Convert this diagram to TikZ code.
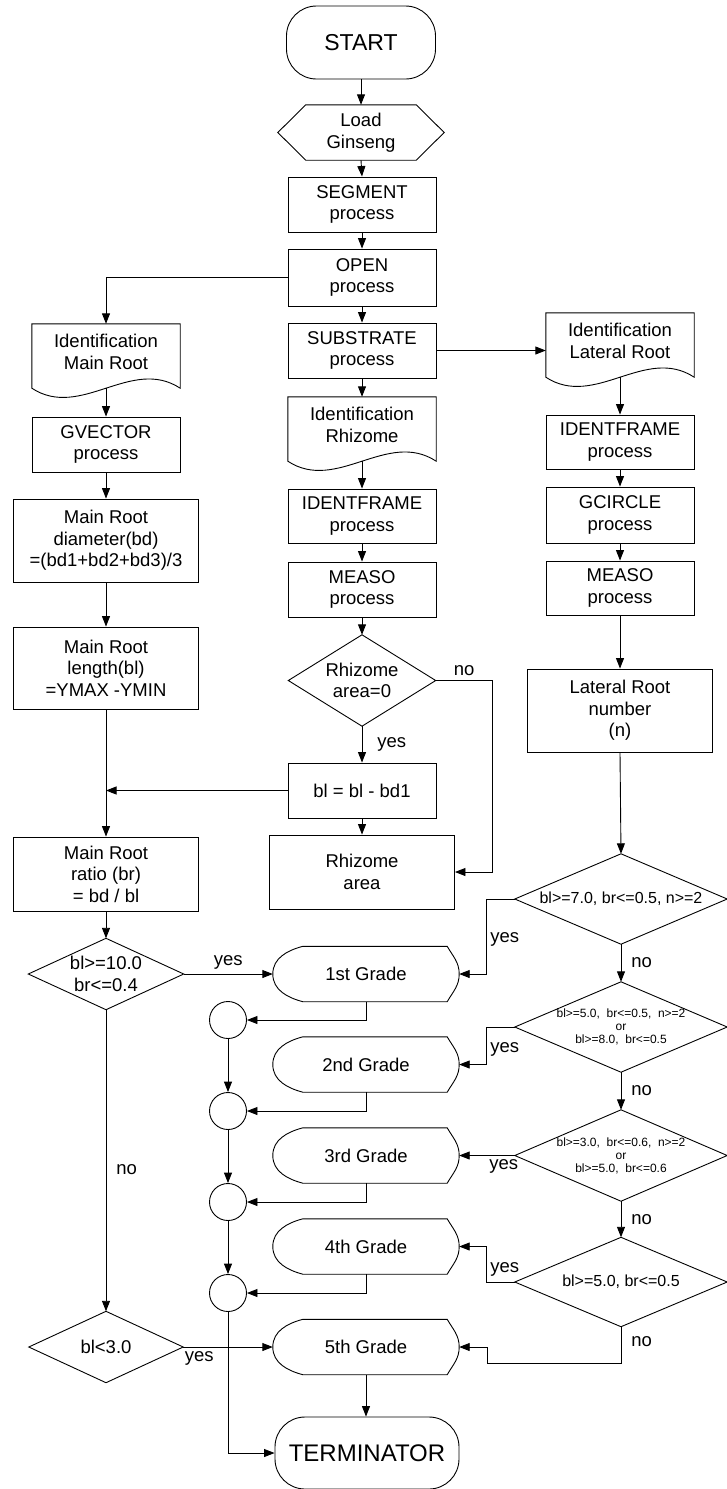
\documentclass[tikz,border=0pt]{standalone}
\usepackage{fontspec}
\setmainfont{Liberation Sans}
\usetikzlibrary{arrows.meta}
\newcommand\hexashape[1]{\draw[shp] ([xshift=28pt]#1.north west) -- ([xshift=-28pt]#1.north east) -- (#1.east) -- ([xshift=-28pt]#1.south east) -- ([xshift=28pt]#1.south west) -- (#1.west) -- cycle;}
\newcommand\docshape[1]{\draw[shp] (#1.north west) -- (#1.north east) -- ([yshift=-8pt]#1.south east) .. controls ([xshift=-49pt,yshift=24pt]#1.south east) and ([xshift=49pt,yshift=-40pt]#1.south west) .. ([yshift=-8pt]#1.south west) -- cycle;}
\newcommand\diamshape[1]{\draw[shp] (#1.north) -- (#1.east) -- (#1.south) -- (#1.west) -- cycle;}
\newcommand\gradeshape[1]{\draw[shp] ([xshift=30pt]#1.north west) -- ([xshift=-12pt]#1.north east) to[out=-60,in=90] (#1.east) to[out=-90,in=60] ([xshift=-12pt]#1.south east) -- ([xshift=30pt]#1.south west) to[out=165,in=-90] (#1.west) to[out=90,in=195] ([xshift=30pt]#1.north west);}
\begin{document}
\begin{tikzpicture}[x=1pt,y=-1pt,
  shp/.style={line width=0.9pt},
  arr/.style={shp,-{Triangle[length=10.5pt,width=8pt]}},
  every node/.style={font=\fontsize{18.5}{21.5}\selectfont, inner sep=0pt, align=center},
  frame/.style n args={2}{minimum width=#1, minimum height=#2},
  pbox/.style={draw, shp, frame={148pt}{55pt}},
  wbox/.style n args={1}{draw, shp, frame={185pt}{#1}},
  lbl/.style={inner sep=1pt},
  term/.style={draw, shp, rounded corners=30pt},
  conn/.style={draw, shp, circle, minimum size=37pt},
  smalltxt/.style={font=\fontsize{12}{13}\selectfont},
  midtxt/.style={font=\fontsize{16}{19}\selectfont}
]
\useasboundingbox (0,0) rectangle (727,1489);
\fill[white] (0,0) rectangle (727,1489);

% centre column
\node[term, frame={149pt}{73pt}, font=\fontsize{23}{26}\selectfont] (start) at (361,42.5) {START};
\node[frame={166pt}{55pt}] (load) at (361,132.5) {Load\\Ginseng};
\hexashape{load}
\node[pbox] (seg) at (362,204.5) {SEGMENT\\process};
\node[pbox, minimum height=57pt] (open) at (362,277.5) {OPEN\\process};
\node[pbox] (sub) at (362,350.5) {SUBSTRATE\\process};
\node[frame={148pt}{56pt}] (irh) at (362,425) {Identification\\Rhizome};
\docshape{irh}
\node[pbox, minimum height=54pt] (ifm1) at (362,516) {IDENTFRAME\\process};
\node[pbox] (mea1) at (362,589.5) {MEASO\\process};
\node[frame={147pt}{91pt}] (rdia) at (362,680.5) {Rhizome\\area=0};
\diamshape{rdia}
\node[pbox] (bl1) at (362,790.5) {bl = bl - bd1};
\node[wbox={74pt}] (area) at (362,872) {Rhizome\\area};

% left column
\node[frame={148pt}{56pt}] (imr) at (106,352) {Identification\\Main Root};
\docshape{imr}
\node[pbox] (gvec) at (106,444.5) {GVECTOR\\process};
\node[wbox={83pt}] (mrd) at (106,540.5) {Main Root\\diameter(bd)\\=(bd1+bd2+bd3)/3};
\node[wbox={82pt}] (mrl) at (106,668) {Main Root\\length(bl)\\=YMAX -YMIN};
\node[wbox={74pt}] (mrr) at (106,874) {Main Root\\ratio (br)\\= bd / bl};
\node[frame={155pt}{71pt}] (dia10) at (106,974) {bl>=10.0\\br<=0.4};
\diamshape{dia10}
\node[frame={154pt}{71pt}] (dl3) at (106,1347) {bl<3.0};
\diamshape{dl3}

% right column
\node[frame={148pt}{56pt}] (ilr) at (620,341) {Identification\\Lateral Root};
\docshape{ilr}
\node[pbox, minimum height=54pt] (ifm2) at (620,442) {IDENTFRAME\\process};
\node[pbox, minimum height=56pt] (gcir) at (620,515) {GCIRCLE\\process};
\node[pbox, minimum height=54pt] (mea2) at (620,588) {MEASO\\process};
\node[wbox={83pt}] (lrn) at (620,710.5) {Lateral Root\\number\\(n)};
\node[frame={212pt}{90pt}, midtxt] (diaA) at (621,899) {bl>=7.0, br<=0.5, n>=2};
\diamshape{diaA}
\node[frame={212pt}{90pt}, smalltxt] (diaB) at (621,1027) {bl>=5.0,\ \ br<=0.5,\ \ n>=2\\or\\bl>=8.0,\ \ br<=0.5};
\diamshape{diaB}
\node[frame={212pt}{91pt}, smalltxt] (diaC) at (621,1155.5) {bl>=3.0,\ \ br<=0.6,\ \ n>=2\\or\\bl>=5.0,\ \ br<=0.6};
\diamshape{diaC}
\node[frame={212pt}{89pt}, midtxt] (diaD) at (621,1282) {bl>=5.0, br<=0.5};
\diamshape{diaD}

% grades
\node[frame={186pt}{55pt}] (g1) at (366,974) {1st Grade};
\gradeshape{g1}
\node[frame={186pt}{55pt}] (g2) at (366,1064.5) {2nd Grade};
\gradeshape{g2}
\node[frame={186pt}{55pt}] (g3) at (366,1155.5) {3rd Grade};
\gradeshape{g3}
\node[frame={186pt}{55pt}] (g4) at (366,1246.5) {4th Grade};
\gradeshape{g4}
\node[frame={186pt}{55pt}] (g5) at (366,1347) {5th Grade};
\gradeshape{g5}
\node[conn] (c1) at (228,1020) {};
\node[conn] (c2) at (228,1111) {};
\node[conn] (c3) at (228,1202) {};
\node[conn] (c4) at (228,1293) {};
\node[term, frame={184pt}{72pt}, font=\fontsize{24}{27}\selectfont] (term) at (367,1453) {TERMINATOR};

% connectors centre
\draw[arr] (start.south) -- (load.north);
\draw[arr] (load.south) -- (seg.north);
\draw[arr] (seg.south) -- (open.north);
\draw[arr] (open.south) -- (sub.north);
\draw[arr] (open.west) -| (imr.north);
\draw[arr] (sub.east) -- (sub.east -| ilr.west);
\draw[arr] (sub.south) -- (irh.north);
\draw[arr] ([yshift=-8pt]irh.south) -- (ifm1.north);
\draw[arr] (ifm1.south) -- (mea1.north);
\draw[arr] (mea1.south) -- (rdia.north);
\draw[arr] (rdia.south) -- node[lbl, right=14pt] (ly1) {yes} (bl1.north);
\draw[arr] (rdia.east) -- node[lbl, above=3pt] (ln1) {no} ++(57,0) |- (area.east);
\draw[arr] (bl1.south) -- (area.north);
\draw[arr] (bl1.west) -- (bl1.west -| mrl.south);

% connectors left
\draw[arr] ([yshift=-8pt]imr.south) -- (gvec.north);
\draw[arr] (gvec.south) -- (mrd.north);
\draw[arr] (mrd.south) -- (mrl.north);
\draw[arr] (mrl.south) -- (mrr.north);
\draw[arr] (mrr.south) -- (dia10.north);
\draw[arr] (dia10.east) -- node[lbl, above=3pt] (ly2) {yes} (g1.west);
\draw[arr] (dia10.south) -- node[lbl, right=9pt, pos=0.53] (ln2) {no} (dl3.north);
\draw[arr] (dl3.east) -- node[lbl, below=3pt, pos=0.18] (ly3) {yes} (g5.west);

% connectors right
\draw[arr] ([yshift=-8pt]ilr.south) -- (ifm2.north);
\draw[arr] (ifm2.south) -- (gcir.north);
\draw[arr] (gcir.south) -- (mea2.north);
\draw[arr] (mea2.south) -- (lrn.north);
\draw[arr] (lrn.south) -- (diaA.north);
\draw[arr] (diaA.west) -- ++(-28,0) |- node[lbl, right=2pt, pos=0.27] (ly4) {yes} (g1.east);
\draw[arr] (diaA.south) -- node[lbl, right=9pt] (ln3) {no} (diaB.north);
\draw[arr] (diaB.west) -- ++(-28,0) |- node[lbl, right=2pt, pos=0.3] (ly5) {yes} (g2.east);
\draw[arr] (diaB.south) -- node[lbl, right=9pt] (ln4) {no} (diaC.north);
\draw[arr] (diaC.west) -- node[lbl, below=3pt, pos=0.2] (ly6) {yes} (g3.east);
\draw[arr] (diaC.south) -- node[lbl, right=9pt] (ln5) {no} (diaD.north);
\draw[arr] (diaD.west) -- ++(-28,0) |- node[lbl, right=2pt, pos=0.18] (ly7) {yes} (g4.east);
\draw[arr] (diaD.south) -- node[lbl, right=9pt, pos=0.4] (ln6) {no} ++(0,37) -- ++(-134,0) |- (g5.east);

% grades to connectors
\draw[arr] (g1.south) |- (c1.east);
\draw[arr] (g2.south) |- (c2.east);
\draw[arr] (g3.south) |- (c3.east);
\draw[arr] (g4.south) |- (c4.east);
\draw[arr] (c1.south) -- (c2.north);
\draw[arr] (c2.south) -- (c3.north);
\draw[arr] (c3.south) -- (c4.north);
\draw[arr] (c4.south) |- (term.west);
\draw[arr] (g5.south) -- (g5.south |- term.north);
\end{tikzpicture}
\end{document}
